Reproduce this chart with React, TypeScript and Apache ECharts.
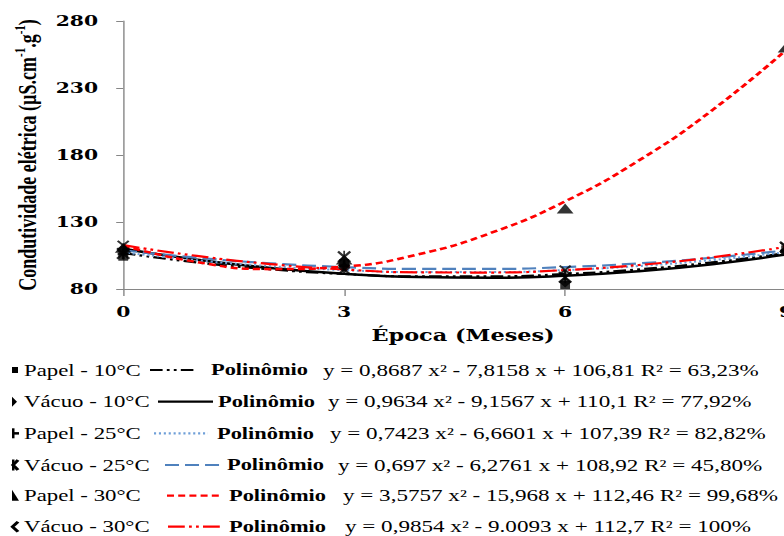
import React, { useEffect, useRef } from "react";
import * as echarts from "echarts";

// ---------- data ----------
const months = [0, 3, 6, 9];
const seriesNames = ["Papel - 10°C", "Vácuo - 10°C", "Papel - 25°C", "Vácuo - 25°C", "Papel - 30°C", "Vácuo - 30°C"];
const papel10 = [104.1, 99.4, 83.0, 109.6];
const vacuo10 = [108.6, 95.8, 85.3, 107.2];
const papel25 = [106.2, 97.7, 90.6, 108.8];
const vacuo25 = [106.4, 104.0, 88.7, 111.4];
const papel30 = [110.7, 102.1, 140.0, 260.2];
const vacuo30 = [112.7, 94.5, 94.1, 111.4];

const trendX = [0, 1, 2, 3, 4, 5, 6, 7, 8, 9];
const trendPapel10 = [106.81, 99.86, 94.65, 91.18, 89.45, 89.45, 91.19, 94.67, 99.88, 106.83];
const trendVacuo10 = [110.1, 101.91, 95.64, 91.3, 88.89, 88.4, 89.84, 93.21, 98.5, 105.72];
const trendPapel25 = [107.39, 101.47, 97.04, 94.09, 92.63, 92.65, 94.15, 97.14, 101.62, 107.58];
const trendVacuo25 = [108.92, 103.34, 99.16, 96.36, 94.97, 94.96, 96.36, 99.14, 103.32, 108.89];
const trendPapel30 = [112.46, 100.07, 94.83, 96.74, 105.8, 122.01, 145.38, 175.89, 213.56, 258.38];
const trendVacuo30 = [112.7, 104.68, 98.62, 94.54, 92.43, 92.29, 94.12, 97.92, 103.69, 111.43];

const yTicks = [80, 130, 180, 230, 280];
const trendLabel = "Polinômio";
const equations = [
  "y = 0,8687 x² - 7,8158 x + 106,81 R² = 63,23%",
  "y = 0,9634 x² - 9,1567 x + 110,1 R² = 77,92%",
  "y = 0,7423 x² - 6,6601 x + 107,39 R² = 82,82%",
  "y = 0,697 x² - 6,2761 x + 108,92 R² = 45,80%",
  "y = 3,5757 x² - 15,968 x + 112,46 R² = 99,68%",
  "y = 0,9854 x² - 9.0093 x + 112,7 R² = 100%",
];

// ---------- styles / layout ----------
const S = 1.4; // horizontal stretch of the whole picture
const W = 562;
const H = 536;
const X = (v: number) => v / S;

const points = [papel10, vacuo10, papel25, vacuo25, papel30, vacuo30];
const trends = [trendPapel10, trendVacuo10, trendPapel25, trendVacuo25, trendPapel30, trendVacuo30];

const plusPath = "path://M3,0h2v3h3v2h-3v3h-2v-3h-3v-2h3z";
const xPath = "path://M1,0L4,3L7,0L8,1L5,4L8,7L7,8L4,5L1,8L0,7L3,4L0,1Z";
const starPath =
  "path://M1,0L3.5,2.5V0h1v2.5L7,0L8,1L5,4L8,7L7,8L4.5,5.5V8h-1V5.5L1,8L0,7L3,4L0,1Z";

const symbols = ["rect", "diamond", plusPath, starPath, "triangle", xPath];
const symbolSizes: any[] = [[7, 8], [9, 11], [8, 10], [10, 12], [12, 10], [9, 10]];

const lineColors = ["#000000", "#000000", "#6f9fd8", "#4f81bd", "#ff0000", "#ff0000"];
const lineDashes: any[] = [[9, 3, 2, 3, 2, 3], "solid", [1.5, 2], [10, 4.3], [5, 3], [12, 3, 2, 3, 2, 3]];
const lineWidths = [2.2, 2.5, 2, 2.2, 2.5, 2.2];

const rowY = [370, 401.7, 433.3, 465, 495.7, 526.7];
const rowLine = [[150, 197], [158, 213], [154, 208], [165, 220], [167, 223], [168, 223]];
const rowPoli = [211, 218, 217, 227, 229, 229];
const rowEq = [323, 328, 330, 338, 343, 345];

const serif = '"Liberation Serif", "Times New Roman", serif';
const boldSerif = '"DejaVu Serif", serif';

function legendMarker(i: number, cy: number): any[] {
  const black = { fill: "#000" };
  switch (i) {
    case 0:
      return [{ type: "rect", shape: { x: X(12), y: cy - 3, width: X(6), height: 6 }, style: black }];
    case 1:
      return [{ type: "polygon", shape: { points: [[X(12), cy - 5], [X(17), cy], [X(12), cy + 5]] }, style: black }];
    case 2:
      return [
        { type: "rect", shape: { x: X(12), y: cy - 5, width: X(2.5), height: 10 }, style: black },
        { type: "rect", shape: { x: X(12), y: cy - 1.2, width: X(7), height: 2.5 }, style: black },
      ];
    case 3:
      return [
        { type: "rect", shape: { x: X(12), y: cy - 5.5, width: X(2.5), height: 11 }, style: black },
        { type: "polyline", shape: { points: [[X(18), cy - 5], [X(13), cy], [X(18), cy + 5]] }, style: { stroke: "#000", lineWidth: 2.5, fill: null } },
      ];
    case 4:
      return [{ type: "polygon", shape: { points: [[X(12), cy - 6], [X(12), cy + 5], [X(19), cy + 5]] }, style: black }];
    default:
      return [
        { type: "polyline", shape: { points: [[X(18), cy - 5], [X(12.5), cy], [X(18), cy + 5]] }, style: { stroke: "#000", lineWidth: 2.5, fill: null } },
      ];
  }
}

function buildLegend(): any[] {
  const els: any[] = [];
  seriesNames.forEach((name, i) => {
    const cy = rowY[i];
    els.push(...legendMarker(i, cy));
    els.push({
      type: "text",
      style: { text: name, x: X(24), y: cy, fill: "#000", fontSize: 16.3, fontFamily: serif, verticalAlign: "middle" },
    });
    els.push({
      type: "line",
      shape: { x1: X(rowLine[i][0]), y1: cy, x2: X(rowLine[i][1]), y2: cy },
      style: {
        stroke: lineColors[i],
        lineWidth: 2.2,
        lineDash: lineDashes[i] === "solid" ? null : lineDashes[i],
      },
    });
    els.push({
      type: "text",
      style: { text: trendLabel, x: X(rowPoli[i]), y: cy, fill: "#000", fontSize: 16, fontWeight: "bold", fontFamily: serif, verticalAlign: "middle" },
    });
    els.push({
      type: "text",
      style: { text: equations[i], x: X(rowEq[i]), y: cy, fill: "#000", fontSize: 16.5, fontFamily: serif, verticalAlign: "middle" },
    });
  });
  return els;
}

export default function App() {
  const ref = useRef<HTMLDivElement>(null);

  useEffect(() => {
    if (!ref.current) return;
    const chart = echarts.init(ref.current, null, { renderer: "svg" });

    const lineSeries = trends.map((t, i) => ({
      name: trendLabel + " " + seriesNames[i],
      type: "line",
      data: trendX.map((x, k) => [x, t[k]]),
      smooth: true,
      symbol: "none",
      lineStyle: { color: lineColors[i], width: lineWidths[i], type: lineDashes[i] },
      z: 2,
    }));

    const scatterSeries = points.map((p, i) => ({
      name: seriesNames[i],
      type: "scatter",
      data: months.map((m, k) => [m, p[k]]),
      symbol: symbols[i],
      symbolSize: symbolSizes[i],
      itemStyle: { color: "#000" },
      z: 3,
    }));

    chart.setOption({
      animation: false,
      backgroundColor: "#fff",
      grid: { left: 88, right: 0.5, top: 21, bottom: 247, containLabel: false, outerBoundsMode: "none" },
      xAxis: {
        type: "value",
        min: 0,
        max: 9,
        interval: 3,
        name: "Época (Meses)",
        nameLocation: "middle",
        nameGap: 39,
        nameTextStyle: { fontFamily: boldSerif, fontWeight: "bold", fontSize: 16, color: "#000", padding: [0, 0, 0, 12] },
        axisLine: { show: true, lineStyle: { color: "#868686", width: 1 } },
        axisTick: { show: true, length: 7, lineStyle: { color: "#868686" } },
        axisLabel: { margin: 15, fontFamily: boldSerif, fontWeight: "bold", fontSize: 14.5, color: "#000" },
        splitLine: { show: false },
      },
      yAxis: {
        type: "value",
        min: 80,
        max: 280,
        name: "{a|Condutividade elétrica (µS.cm}{b|-1}{a|.g}{b|-1}{a|)}",
        nameLocation: "middle",
        nameGap: 57,
        nameRotate: 90,
        nameTextStyle: {
          rich: {
            a: { fontFamily: serif, fontWeight: "bold", fontSize: 18, color: "#000", lineHeight: 22 },
            b: { fontFamily: serif, fontWeight: "bold", fontSize: 11, color: "#000", verticalAlign: "top", lineHeight: 12 },
          },
        },
        axisLine: { show: true, lineStyle: { color: "#868686", width: 1 } },
        axisTick: { show: true, length: 5, customValues: yTicks, lineStyle: { color: "#868686" } },
        axisLabel: { margin: 18, customValues: yTicks, fontFamily: boldSerif, fontWeight: "bold", fontSize: 14.5, color: "#000" },
        splitLine: { show: false },
      },
      graphic: buildLegend(),
      series: [...lineSeries, ...scatterSeries],
    });

    return () => chart.dispose();
  }, []);

  return (
    <div style={{ position: "fixed", left: 0, top: 0, width: 784, height: 536, overflow: "hidden", background: "#fff" }}>
      <div
        ref={ref}
        style={{ width: W, height: H, transform: `scaleX(${S})`, transformOrigin: "0 0" }}
      />
    </div>
  );
}
